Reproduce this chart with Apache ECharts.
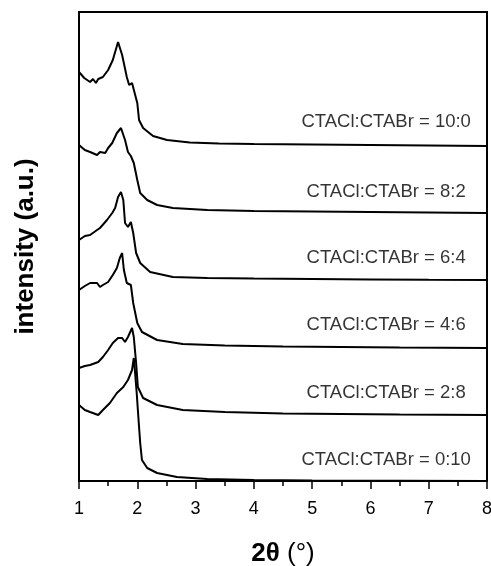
<!DOCTYPE html>
<html>
<head>
<meta charset="utf-8">
<script src="https://cdn.jsdelivr.net/npm/echarts@6/dist/echarts.min.js"></script>
<style>html,body{margin:0;padding:0;background:#fff}#c{width:491px;height:566px}</style>
</head>
<body>
<div id="c"></div>
<script>
// ---- data (2θ in degrees, intensity in arbitrary offset units) ----
const ratios = ['10:0', '8:2', '6:4', '4:6', '2:8', '0:10'];
const xTicks = [1, 2, 3, 4, 5, 6, 7, 8];

const s10_0 = [[1.00,409],[1.09,403],[1.19,399],[1.24,402],[1.29,398],[1.33,402],[1.41,404],[1.50,411],[1.58,421],[1.67,439],[1.74,426],[1.82,404],[1.86,396],[1.91,398],[1.94,398],[2.00,378],[2.03,361],[2.10,353],[2.27,345],[2.51,341],[2.90,338.5],[3.40,337.5],[4.00,337],[5.00,336.5],[6.00,336],[7.00,335.5],[8.0,335]];
const s8_2 = [[1.00,336],[1.10,331],[1.19,329],[1.31,326],[1.36,329],[1.45,328],[1.50,333],[1.57,338],[1.65,348],[1.72,353],[1.79,341],[1.84,329],[1.89,325],[1.94,318],[2.00,301],[2.05,288],[2.17,281],[2.34,276],[2.61,273],[3.20,271],[4.00,270],[5.00,269.5],[6.00,269],[7.00,268.5],[8.0,268]];
const s6_4 = [[1.00,241],[1.10,245],[1.19,246],[1.31,251],[1.36,253],[1.48,261],[1.57,268],[1.62,273],[1.67,284],[1.72,289],[1.76,281],[1.79,258],[1.84,254],[1.89,259],[1.93,248],[1.98,228],[2.05,218],[2.22,209],[2.61,204],[3.20,203],[4.00,202.5],[5.00,202],[6.00,201.5],[7.00,201.2],[8.0,201]];
const s4_6 = [[1.00,191],[1.10,195],[1.19,198],[1.31,198],[1.36,194],[1.41,196],[1.50,199],[1.58,206],[1.65,213],[1.70,223],[1.74,228],[1.77,211],[1.82,198],[1.89,196],[1.93,178],[2.00,158],[2.08,149],[2.34,141],[2.78,137],[3.50,135.5],[4.50,134.5],[5.50,134],[6.50,133.5],[8.0,133]];
const s2_8 = [[1.00,113],[1.10,115],[1.19,116],[1.33,119],[1.41,124],[1.50,131],[1.58,138],[1.67,143],[1.74,143],[1.79,139],[1.84,144],[1.91,153],[1.94,144],[1.98,118],[2.01,94],[2.10,83],[2.34,76],[2.78,71],[3.50,69],[4.50,67.5],[5.50,67],[6.50,66.5],[8.0,66]];
const s0_10 = [[1.00,76],[1.10,71],[1.19,69],[1.33,66],[1.41,71],[1.53,78],[1.65,88],[1.76,94],[1.84,101],[1.91,111],[1.94,123],[1.96,110],[1.99,88],[2.01,71],[2.05,38],[2.08,21],[2.17,13],[2.34,8],[2.68,4],[3.20,2],[4.00,1],[5.00,0.5],[8.0,0]];
const curves = [s10_0, s8_2, s6_4, s4_6, s2_8, s0_10];

// label anchors (data coordinates) for each curve's caption
const labelX = 6.27;
const labelY = [359, 289, 223, 156, 88, 21];

const FONT = '"Liberation Sans", Arial, sans-serif';
const chart = echarts.init(document.getElementById('c'), null, {renderer: 'canvas'});

const series = curves.map((d) => ({
  type: 'line', data: d, symbol: 'none', smooth: false,
  lineStyle: {color: '#000', width: 2}, silent: true, animation: false
}));
series.push({
  type: 'scatter', symbolSize: 0, animation: false, silent: true,
  data: ratios.map((r, i) => ({value: [labelX, labelY[i]], name: 'CTACl:CTABr = ' + r})),
  label: {show: true, position: 'inside', formatter: p => p.name,
          color: '#000', fontFamily: FONT, fontSize: 18.5}
});

chart.setOption({
  backgroundColor: '#fff',
  animation: false,
  grid: {left: 79, right: 4, top: 12, bottom: 85, containLabel: false, outerBoundsMode: 'none',
         show: true, borderColor: '#000', borderWidth: 2},
  xAxis: {
    type: 'value', min: 1, max: 8, interval: 1,
    axisLine: {show: true, lineStyle: {color: '#000', width: 2}},
    axisTick: {show: true, length: 8, lineStyle: {color: '#000', width: 1.5}},
    minorTick: {show: true, splitNumber: 2, length: 5, lineStyle: {color: '#000', width: 1.5}},
    splitLine: {show: false},
    axisLabel: {color: '#000', fontFamily: FONT, fontSize: 18, margin: 19,
                formatter: v => (xTicks.indexOf(v) >= 0 ? String(v) : '')},
    name: '{b|2θ}{n| (°)}', nameLocation: 'middle', nameGap: 60,
    nameTextStyle: {rich: {b: {fontWeight: 'bold', fontSize: 26, fontFamily: FONT, color: '#000'},
                           n: {fontSize: 26, fontFamily: FONT, color: '#000'}}}
  },
  yAxis: {
    type: 'value', min: 0, max: 469,
    axisLine: {show: true, lineStyle: {color: '#000', width: 2}},
    axisTick: {show: false}, axisLabel: {show: false}, splitLine: {show: false},
    name: 'intensity (a.u.)', nameLocation: 'middle', nameGap: 40,
    nameTextStyle: {fontFamily: FONT, fontSize: 26, fontWeight: 'bold', color: '#000'}
  },
  series: series
});
</script>
</body>
</html>
